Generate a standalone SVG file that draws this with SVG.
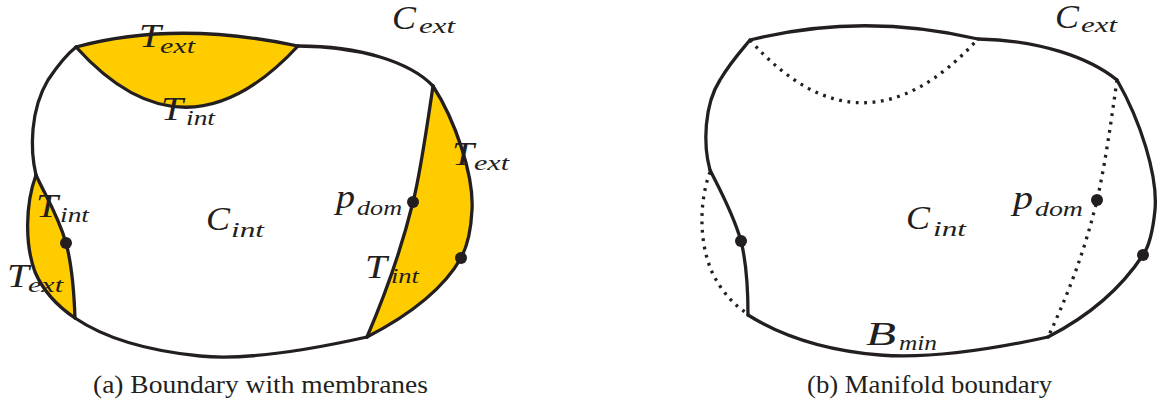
<svg xmlns="http://www.w3.org/2000/svg" width="1163" height="405" viewBox="0 0 1163 405">
<style>
.fill{fill:#FFCC00;stroke:none}
.ln{fill:none;stroke:#231F20;stroke-width:3.3;stroke-linecap:round;stroke-linejoin:round}
.dt{fill:none;stroke:#231F20;stroke-width:3.3;stroke-dasharray:2.8 5.6;stroke-linecap:butt}
.dot{fill:#231F20}
.m{font-family:"Liberation Serif","DejaVu Serif",serif;font-style:italic;font-size:34px;fill:#231F20}
.s{font-family:"Liberation Serif","DejaVu Serif",serif;font-style:italic;font-size:22px;fill:#231F20}
.cap{font-family:"Liberation Serif","DejaVu Serif",serif;font-size:26px;fill:#231F20}
</style>
<rect width="1163" height="405" fill="#fff"/>

<g id="diagram-a">
  <g id="a-membranes">
    <path class="fill" d="M76,47 Q175,20 298,46 Q185,168 76,47 Z"/>
    <path class="fill" d="M433,86 C455,120 474,175 472,210 C471,230 468,245 461,258 C440,295 400,320 367,337 C385,295 400,255 413,202 C420,175 425,140 433,86 Z"/>
    <path class="fill" d="M36,175 C25,205 25,245 35,272 C45,295 60,308 75,318 C74,290 72,265 66,243 C58,215 45,195 36,175 Z"/>
  </g>
  <g id="a-labels">
    <text class="m" x="392" y="29" textLength="24" lengthAdjust="spacingAndGlyphs">C</text><text class="s" x="419" y="33" textLength="36" lengthAdjust="spacingAndGlyphs">ext</text>
    <text class="m" x="139" y="47" textLength="22" lengthAdjust="spacingAndGlyphs">T</text><text class="s" x="160" y="53" textLength="35" lengthAdjust="spacingAndGlyphs">ext</text>
    <text class="m" x="161" y="120" textLength="22" lengthAdjust="spacingAndGlyphs">T</text><text class="s" x="186" y="125" textLength="29" lengthAdjust="spacingAndGlyphs">int</text>
    <text class="m" x="452" y="165" textLength="22" lengthAdjust="spacingAndGlyphs">T</text><text class="s" x="474" y="170" textLength="35" lengthAdjust="spacingAndGlyphs">ext</text>
    <text class="m" x="36" y="217" textLength="22" lengthAdjust="spacingAndGlyphs">T</text><text class="s" x="60" y="222" textLength="29" lengthAdjust="spacingAndGlyphs">int</text>
    <text class="m" x="206" y="230" textLength="24" lengthAdjust="spacingAndGlyphs">C</text><text class="s" x="231" y="237" textLength="33" lengthAdjust="spacingAndGlyphs">int</text>
    <text class="m" x="336" y="208" textLength="19" lengthAdjust="spacingAndGlyphs">p</text><text class="s" x="357" y="215" textLength="45" lengthAdjust="spacingAndGlyphs">dom</text>
    <text class="m" x="7" y="287" textLength="22" lengthAdjust="spacingAndGlyphs">T</text><text class="s" x="28" y="292" textLength="35" lengthAdjust="spacingAndGlyphs">ext</text>
    <text class="m" x="365" y="278" textLength="22" lengthAdjust="spacingAndGlyphs">T</text><text class="s" x="391" y="283" textLength="28" lengthAdjust="spacingAndGlyphs">int</text>
  </g>
  <g id="a-boundary">
    <path class="ln" d="M76,47 Q175,20 298,46"/>
    <path class="ln" d="M76,47 Q185,168 298,46"/>
    <path class="ln" d="M298,46 C360,46 410,62 433,86"/>
    <path class="ln" d="M433,86 C455,120 474,175 472,210 C471,230 468,245 461,258 C440,295 400,320 367,337"/>
    <path class="ln" d="M433,86 C425,140 420,175 413,202 C400,255 385,295 367,337"/>
    <path class="ln" d="M367,337 C300,352 240,360 200,356 C140,350 100,335 75,318"/>
    <path class="ln" d="M75,318 C74,290 72,265 66,243 C58,215 45,195 36,175"/>
    <path class="ln" d="M36,175 C25,205 25,245 35,272 C45,295 60,308 75,318"/>
    <path class="ln" d="M36,175 C30,150 30,110 48,80 C58,65 66,55 76,47"/>
  </g>
  <g id="a-points">
    <circle class="dot" cx="66" cy="243" r="6"/>
    <circle class="dot" cx="413" cy="202" r="6"/>
    <circle class="dot" cx="461" cy="258" r="6"/>
  </g>
  <text id="a-caption" class="cap" x="93" y="393" textLength="335" lengthAdjust="spacingAndGlyphs">(a) Boundary with membranes</text>
</g>

<g id="diagram-b">
  <g id="b-labels">
    <text class="m" x="1055" y="28" textLength="24" lengthAdjust="spacingAndGlyphs">C</text><text class="s" x="1081" y="32" textLength="36" lengthAdjust="spacingAndGlyphs">ext</text>
    <text class="m" x="906" y="229" textLength="24" lengthAdjust="spacingAndGlyphs">C</text><text class="s" x="933" y="236" textLength="33" lengthAdjust="spacingAndGlyphs">int</text>
    <text class="m" x="1013" y="209" textLength="20" lengthAdjust="spacingAndGlyphs">p</text><text class="s" x="1035" y="216" textLength="48" lengthAdjust="spacingAndGlyphs">dom</text>
    <text class="m" x="866" y="345" textLength="30" lengthAdjust="spacingAndGlyphs">B</text><text class="s" x="899" y="350" textLength="38" lengthAdjust="spacingAndGlyphs">min</text>
  </g>
  <g id="b-boundary">
    <path class="ln" d="M750,40 Q862,12 978,39"/>
    <path class="dt" d="M750,40 Q862,166 978,39"/>
    <path class="ln" d="M978,39 C1040,40 1090,58 1117,80"/>
    <path class="ln" d="M1117,80 C1140,120 1158,175 1155,210 C1153,230 1150,245 1143,255 C1120,290 1085,318 1048,337"/>
    <path class="dt" d="M1117,80 C1110,130 1104,170 1097,200 C1085,250 1068,295 1048,337"/>
    <path class="ln" d="M1048,337 C980,352 920,358 880,355 C820,350 780,335 748,315"/>
    <path class="ln" d="M748,315 C748,290 747,265 741,241 C733,213 720,190 710,170"/>
    <path class="dt" d="M710,172 C698,205 700,245 712,272 C722,293 735,305 745,312"/>
    <path class="ln" d="M710,170 C703,145 704,105 720,80 C730,63 740,52 750,40"/>
  </g>
  <g id="b-points">
    <circle class="dot" cx="741" cy="241" r="6"/>
    <circle class="dot" cx="1097" cy="200" r="6"/>
    <circle class="dot" cx="1143" cy="255" r="6"/>
  </g>
  <text id="b-caption" class="cap" x="807" y="393" textLength="245" lengthAdjust="spacingAndGlyphs">(b) Manifold boundary</text>
</g>
</svg>
